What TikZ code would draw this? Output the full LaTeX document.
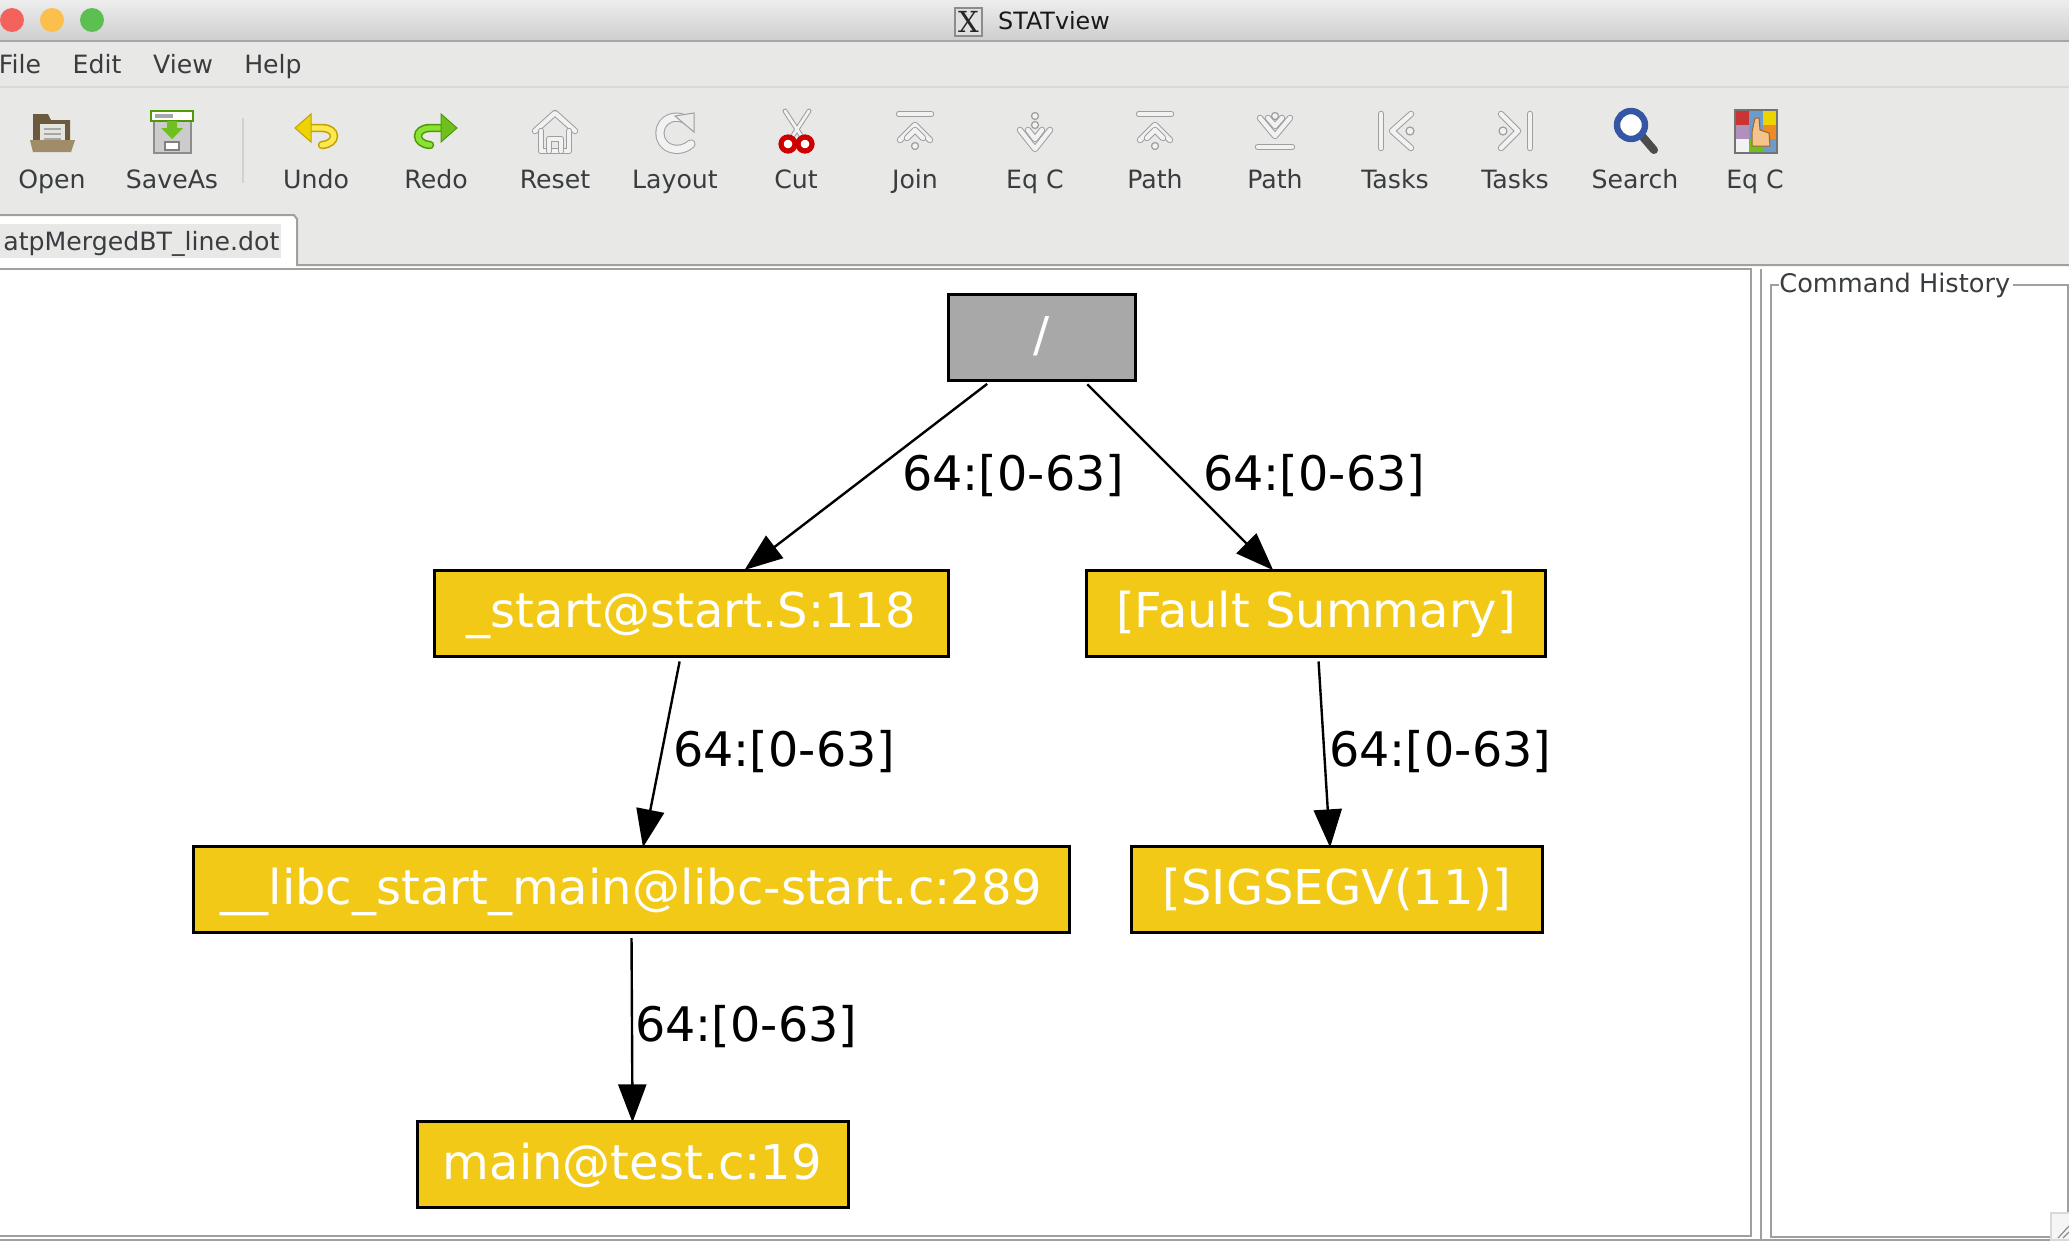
\documentclass[tikz,border=0pt]{standalone}
\usepackage{fontspec}
\setmainfont{DejaVu Sans}
\usepackage{tikz}
\usetikzlibrary{positioning, arrows.meta}
\definecolor{panelgrey}{HTML}{E8E8E6}
\definecolor{framegrey}{HTML}{A0A09C}
\definecolor{uitext}{HTML}{3A3D3F}
\definecolor{stackgold}{HTML}{F2C917}
\definecolor{rootgrey}{HTML}{A8A8A8}
\definecolor{lightred}{HTML}{F4625C}
\definecolor{lightamber}{HTML}{FBBF4C}
\definecolor{lightgreen}{HTML}{5BBF52}
\definecolor{folderdark}{HTML}{6B5A3E}
\definecolor{folderpaper}{HTML}{E4E4DC}
\definecolor{foldertan}{HTML}{A08C68}
\definecolor{iconleaf}{HTML}{4E9A06}
\definecolor{iconlime}{HTML}{6FC01E}
\definecolor{iconlimepale}{HTML}{8AE234}
\definecolor{iconmustard}{HTML}{C4A000}
\definecolor{iconyellow}{HTML}{EDD400}
\definecolor{iconyellowpale}{HTML}{FCE94F}
\definecolor{iconscarlet}{HTML}{CC0000}
\definecolor{iconblue}{HTML}{3456A4}
\definecolor{gridred}{HTML}{CC3333}
\definecolor{gridblue}{HTML}{6C9CCC}
\definecolor{gridmauve}{HTML}{B090BC}
\definecolor{gridorange}{HTML}{F08A24}
\definecolor{handskin}{HTML}{F5C48C}
\definecolor{handedge}{HTML}{A0622C}
\tikzset{
  uilabel/.style={anchor=base, inner sep=0pt, text=uitext, font=\fontsize{12.6}{15}\selectfont},
  stacknode/.style={draw=black, line width=1.5pt, fill=stackgold, text=white, minimum height=43pt,
    inner sep=0pt, text height=19.3pt, text depth=4.6pt, font=\fontsize{24}{28}\selectfont},
  edgelabel/.style={anchor=base west, inner sep=0pt, text=black, font=\fontsize{23.8}{28}\selectfont},
  edgeline/.style={-{Triangle[length=19pt,width=14pt]}, line width=1.2pt, black, shorten <=2pt, shorten >=-1.2pt},
  frameline/.style={draw=framegrey, line width=1pt},
  ghost/.style={draw=black!38, double=black!5, double distance=2.2pt, line width=0.5pt, line cap=round, line join=round},
  ghostdot/.style={draw=black!38, fill=black!5, line width=0.6pt},
}
\begin{document}
\begin{tikzpicture}[x=0.5pt, y=-0.5pt]
\useasboundingbox (0,0) rectangle (2069,1242);

% Window chrome
\fill[panelgrey] (0,0) rectangle (2069,266);
\shade[top color=black!7, bottom color=black!19] (0,0) rectangle (2069,40);
\draw[black!35, line width=1pt] (0,41) -- (2069,41);
\draw[black!15, line width=0.8pt] (0,87) -- (2069,87);
\fill[white] (0,266) rectangle (2069,1242);
\fill[white] (0,216) -- (295,216) -- (297,219) -- (297,266) -- (0,266) -- cycle;
\fill[panelgrey] (0,224) rectangle (281,258);
\draw[frameline] (0,215) -- (294,215) -- (297,219) -- (297,265) -- (2069,265);
\draw[frameline] (0,269) -- (1751,269) -- (1751,1236) -- (0,1236);
\draw[frameline] (0,1240) -- (2069,1240);
\draw[frameline] (1761,269) -- (1761,1240);
\draw[frameline] (2069,285) -- (2013,285);
\draw[frameline] (1779,285) -- (1771,285) -- (1771,1237) -- (2051,1237);
\draw[frameline] (2068,285) -- (2068,1213);

% Traffic lights
\fill[lightred] (12,20) circle [radius=12];
\fill[lightamber] (52,20) circle [radius=12];
\fill[lightgreen] (92,20) circle [radius=12];

% Title
\draw[black!45, fill=black!12, line width=0.7pt] (955,8) rectangle (982,36);
\node (xlogo) at (968.5,22) [inner sep=0pt, text=black!85, font=\fontspec{DejaVu Serif}\fontsize{14.5}{16}\selectfont] {X};
\node (title) at (1054,30) [uilabel, text=black!90, font=\fontsize{11.9}{14}\selectfont] {STATview};

% Menu
\node (mfile) at (20,73) [uilabel] {File};
\node (medit) at (97,73) [uilabel] {Edit};
\node (mview) at (183,73) [uilabel] {View};
\node (mhelp) at (273,73) [uilabel] {Help};

% Toolbar labels
\foreach \tname/\tx/\ttext in {open/52/Open, saveas/172/SaveAs, undo/316/Undo, redo/436/Redo,
    reset/555/Reset, layout/675/Layout, cut/796/Cut, join/915/Join, eqa/1035/Eq C, patha/1155/Path,
    pathb/1275/Path, tasksa/1395/Tasks, tasksb/1515/Tasks, search/1635/Search, eqb/1755/Eq C}
  \node (\tname) at (\tx,188) [uilabel] {\ttext};
\draw[black!18, line width=0.8pt] (243,118) -- (243,183);

% Open icon
\fill[folderdark] (33,114) -- (48,114) -- (51,120) -- (70,120) -- (70,140) -- (33,140) -- cycle;
\fill[folderpaper] (40,124) rectangle (65,142);
\draw[black!35, line width=0.8pt] (44,129) -- (61,129) (44,134) -- (61,134) (44,139) -- (61,139);
\fill[foldertan] (30,140) -- (75,140) -- (71,152) -- (33,152) -- cycle;

% SaveAs icon
\draw[black!45, fill=black!20, line width=0.7pt] (154,121) rectangle (191,153);
\draw[iconleaf, fill=white, line width=1pt] (151,111) rectangle (193,121);
\fill[black!35] (155,114) rectangle (173,118);
\fill[iconlime] (167,121) -- (177,121) -- (177,128) -- (183,128) -- (172,139) -- (161,128) -- (167,128) -- cycle;
\draw[black!50, fill=white, line width=0.6pt] (165,142) rectangle (179,150);

% Undo and Redo icons
\draw[iconmustard, line width=4.2pt, line cap=round] (306,128) -- (322,128) .. controls (338,128) and (338,144) .. (322,145);
\draw[iconyellowpale, line width=2.6pt, line cap=round] (306,128) -- (322,128) .. controls (338,128) and (338,144) .. (322,145);
\fill[iconyellow, draw=iconmustard, line width=0.5pt] (295,128) -- (311,114) -- (311,142) -- cycle;
\draw[iconleaf, line width=4.2pt, line cap=round] (446,128) -- (430,128) .. controls (414,128) and (414,144) .. (430,145);
\draw[iconlimepale, line width=2.6pt, line cap=round] (446,128) -- (430,128) .. controls (414,128) and (414,144) .. (430,145);
\fill[iconlime, draw=iconleaf, line width=0.5pt] (457,128) -- (441,114) -- (441,142) -- cycle;

% Reset icon
\draw[ghost] (535,131) -- (555,113) -- (575,131);
\draw[ghost] (541,131) -- (541,151) -- (569,151) -- (569,131);
\draw[ghost] (549,151) -- (549,139) -- (561,139) -- (561,151);

% Layout icon
\draw[ghost, double distance=3.6pt] (689,122) .. controls (678,112) and (660,118) .. (660,133) .. controls (660,150) and (680,154) .. (691,144);
\fill[black!8, draw=black!38, line width=0.5pt] (675,116) -- (694,113) -- (694,132) -- cycle;

% Cut icon
\draw[ghost, double distance=1.4pt] (785,111) -- (802,137) (809,111) -- (792,137);
\draw[iconscarlet, line width=2.6pt, fill=white] (788,144) circle [radius=7];
\draw[iconscarlet, line width=2.6pt, fill=white] (805,144) circle [radius=7];

% Join and Path icons
\foreach \ix in {915,1155} {
  \draw[ghost] (\ix-16,114) -- (\ix+16,114);
  \draw[ghost] (\ix-15,140) -- (\ix,125) -- (\ix+15,140);
  \draw[ghost] (\ix-8,138) -- (\ix,130) -- (\ix+8,138);
  \draw[ghostdot] (\ix,146) circle [radius=3.5];
}

% Eq C and Path icons
\draw[ghost] (1020,130) -- (1035,149) -- (1050,130);
\draw[ghost] (1028,130) -- (1035,139) -- (1042,130);
\draw[ghostdot] (1035,116) circle [radius=3.5];
\draw[ghostdot] (1035,125) circle [radius=3.5];
\draw[ghost] (1260,118) -- (1275,136) -- (1290,118);
\draw[ghost] (1268,118) -- (1275,126) -- (1282,118);
\draw[ghostdot] (1275,116) circle [radius=3.5];
\draw[ghost] (1258,147) -- (1292,147);

% Tasks icons
\draw[ghost] (1381,114) -- (1381,148);
\draw[ghost] (1411,114) -- (1392,131) -- (1411,148);
\draw[ghostdot] (1410,131) circle [radius=4];
\draw[ghost] (1530,114) -- (1530,148);
\draw[ghost] (1501,114) -- (1518,131) -- (1501,148);
\draw[ghostdot] (1503,131) circle [radius=4];

% Search icon
\draw[black!70, line width=4pt, line cap=round] (1642,136) -- (1654,150);
\draw[iconblue, line width=3.2pt, fill=white] (1631,125) circle [radius=14];

% Eq C colour icon
\fill[gridred] (1735,110) rectangle (1749,125);
\fill[gridblue] (1749,110) rectangle (1763,125);
\fill[iconyellow] (1763,110) rectangle (1777,125);
\fill[gridmauve] (1735,125) rectangle (1749,139);
\fill[gridblue] (1749,125) rectangle (1763,139);
\fill[gridorange] (1763,125) rectangle (1777,139);
\fill[black!5] (1735,139) rectangle (1749,153);
\fill[iconlime] (1749,139) rectangle (1763,153);
\fill[gridblue] (1763,139) rectangle (1777,153);
\draw[black!55, line width=0.6pt] (1735,110) rectangle (1777,153);
\fill[handskin, draw=handedge, line width=0.5pt] (1752,146) -- (1752,132) -- (1755,118) -- (1759,118) -- (1760,130) -- (1769,133) -- (1770,146) -- cycle;

% Tab and history texts
\node (tabname) at (3,250) [uilabel, anchor=base west] {atpMergedBT\_line.dot};
\node (history) at (1779,292) [uilabel, anchor=base west, font=\fontsize{12.8}{15}\selectfont] {Command History};

% Size grip
\draw[black!15, fill=black!4, line width=0.8pt] (2069,1213) -- (2051,1213) -- (2051,1240) -- (2069,1240);
\draw[black!45, line width=0.6pt] (2058,1238) -- (2069,1226) (2063,1238) -- (2069,1232);

% Stack tree nodes
\node (root) at (1041.5,337) [stacknode, fill=rootgrey, minimum width=93.5pt] {/};
\node (start) at (691.5,613) [stacknode, minimum width=257pt] {\_start@start.S:118};
\node (fault) at (1316,613) [stacknode, minimum width=229.5pt] {[Fault Summary]};
\node (libc) at (631.5,889.5) [stacknode, minimum width=438pt] {\_\_libc\_start\_main@libc-start.c:289};
\node (sigsegv) at (1337,889.5) [stacknode, minimum width=205.5pt] {[SIGSEGV(11)]};
\node (mainfn) at (632.5,1164.5) [stacknode, minimum width=215.5pt] {main@test.c:19};

% Edges
\draw[edgeline] (root.221) -- (start.39);
\draw[edgeline] (root.-46) -- (fault.135);
\draw[edgeline] (start.256) -- (libc.75);
\draw[edgeline] (fault.-87) -- (sigsegv.99);
\draw[edgeline] (libc.south) -- (mainfn.north);

% Edge labels
\node (ea) at (902,490) [edgelabel] {64:[0-63]};
\node (eb) at (1203,490) [edgelabel] {64:[0-63]};
\node (ec) at (673,766) [edgelabel] {64:[0-63]};
\node (ed) at (1329,766) [edgelabel] {64:[0-63]};
\node (ee) at (635,1041) [edgelabel] {64:[0-63]};
\end{tikzpicture}
\end{document}
